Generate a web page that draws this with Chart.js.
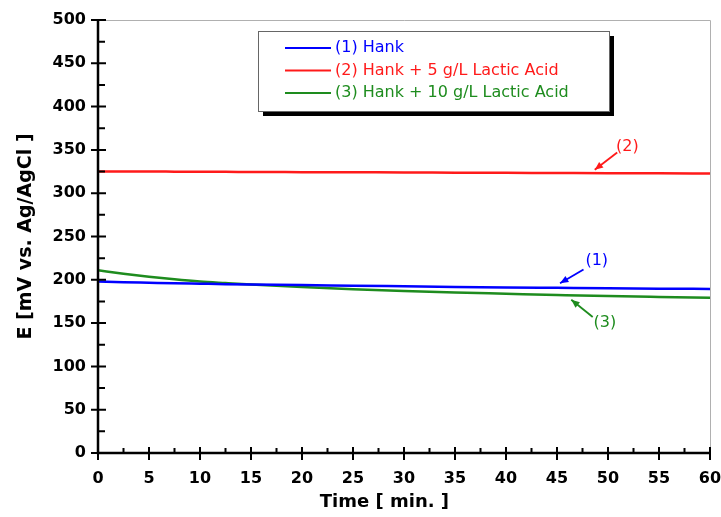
<!DOCTYPE html>
<html>
<head>
<meta charset="utf-8">
<title>Open circuit potential vs time</title>
<script src="https://cdn.jsdelivr.net/npm/chart.js@4.4.1/dist/chart.umd.min.js"></script>
<style>
  html, body { margin: 0; padding: 0; background: #fff; }
  #wrap { width: 721px; height: 517px; }
</style>
</head>
<body>
<div id="wrap"><canvas id="myChart" width="721" height="517"></canvas></div>
<script>
// time in minutes
const times = [0, 2.5, 5, 7.5, 10, 12.5, 15, 20, 25, 30, 35, 40, 45, 50, 55, 60];

// E in mV vs Ag/AgCl
const hank = [198, 197.2, 196.6, 196, 195.5, 195, 194.6, 194, 193.2, 192.5, 191.8, 191.2, 190.7, 190.2, 189.8, 189.5];
const hank5 = [325, 325, 325, 324.9, 324.8, 324.7, 324.5, 324.3, 324.1, 324, 323.7, 323.5, 323.3, 323.1, 323, 322.8];
const hank10 = [211, 207, 203.5, 200.5, 198, 196.2, 194.5, 191.6, 189.1, 187, 185.3, 183.9, 182.5, 181.2, 180.2, 179.3];

const seriesLabels = ['(1) Hank', '(2) Hank + 5 g/L Lactic Acid', '(3) Hank + 10 g/L Lactic Acid'];
const seriesColors = ['#0000ff', '#ff1a1a', '#1e8c1e'];

// arrow labels, in data units: text position, arrow tail, arrow head
const noteText = ['(1)', '(2)', '(3)'];
const noteAt = [[48.9, 222], [51.9, 354], [49.7, 150]];
const noteTail = [[47.6, 212], [50.9, 347], [48.5, 157]];
const noteHead = [[45.3, 196], [48.7, 327], [46.4, 177]];

const xTicksMajor = [0, 5, 10, 15, 20, 25, 30, 35, 40, 45, 50, 55, 60];
const yTicksMajor = [0, 50, 100, 150, 200, 250, 300, 350, 400, 450, 500];

const xTitle = 'Time [ min. ]';

const FONT = '"DejaVu Sans", "Liberation Sans", Arial, sans-serif';

function toPoints(ys) {
    return ys.map((y, i) => ({ x: times[i], y: y }));
}

const frameAndTicks = {
    id: 'frameAndTicks',
    afterDatasetsDraw(chart) {
        const ctx = chart.ctx;
        const a = chart.chartArea;
        const xs = chart.scales.x;
        const ys = chart.scales.y;
        ctx.save();
        // light top and right border
        ctx.strokeStyle = '#b0b0b0';
        ctx.lineWidth = 1;
        ctx.beginPath();
        ctx.moveTo(a.left, a.top + 0.5);
        ctx.lineTo(a.right + 0.5, a.top + 0.5);
        ctx.lineTo(a.right + 0.5, a.bottom);
        ctx.stroke();

        ctx.strokeStyle = '#000';
        ctx.lineWidth = 2.5;
        ctx.beginPath();
        ctx.moveTo(a.left, a.top);
        ctx.lineTo(a.left, a.bottom);
        ctx.lineTo(a.right, a.bottom);
        ctx.stroke();

        ctx.lineWidth = 2;
        ctx.beginPath();
        xTicksMajor.forEach(v => {
            const px = xs.getPixelForValue(v);
            ctx.moveTo(px, a.bottom - 6);
            ctx.lineTo(px, a.bottom + 7);
            if (v < 60) {
                const pm = xs.getPixelForValue(v + 2.5);
                ctx.moveTo(pm, a.bottom - 5);
                ctx.lineTo(pm, a.bottom);
            }
        });
        yTicksMajor.forEach(v => {
            const py = ys.getPixelForValue(v);
            ctx.moveTo(a.left - 7, py);
            ctx.lineTo(a.left + 8, py);
            if (v < 500) {
                const pm = ys.getPixelForValue(v + 25);
                ctx.moveTo(a.left, pm);
                ctx.lineTo(a.left + 7, pm);
            }
        });
        ctx.stroke();

        // x axis title sits a little left of centre in the original
        ctx.fillStyle = '#000';
        ctx.font = 'bold 18px ' + FONT;
        ctx.textAlign = 'center';
        ctx.textBaseline = 'middle';
        ctx.fillText(xTitle, a.left + (a.right - a.left) * 0.468, 502);
        ctx.restore();
    }
};

const boxLegend = {
    id: 'boxLegend',
    afterDraw(chart) {
        const ctx = chart.ctx;
        const left = 258, top = 31, w = 351, h = 80;
        ctx.save();
        ctx.fillStyle = '#000';
        ctx.fillRect(left + 5, top + 5, w, h);
        ctx.fillStyle = '#fff';
        ctx.fillRect(left, top, w, h);
        ctx.strokeStyle = '#666';
        ctx.lineWidth = 1;
        ctx.strokeRect(left + 0.5, top + 0.5, w, h);
        ctx.font = '16px ' + FONT;
        ctx.textBaseline = 'middle';
        chart.data.datasets.forEach((ds, i) => {
            const y = top + 17 + i * 22.5;
            ctx.strokeStyle = ds.borderColor;
            ctx.lineWidth = 2;
            ctx.beginPath();
            ctx.moveTo(285, y);
            ctx.lineTo(331, y);
            ctx.stroke();
            ctx.fillStyle = ds.borderColor;
            ctx.fillText(ds.label, 335, y);
        });
        ctx.restore();
    }
};

const arrowNotes = {
    id: 'arrowNotes',
    afterDatasetsDraw(chart) {
        const ctx = chart.ctx;
        const xs = chart.scales.x;
        const ys = chart.scales.y;
        ctx.save();
        ctx.font = '16px ' + FONT;
        ctx.textAlign = 'center';
        ctx.textBaseline = 'middle';
        noteText.forEach((t, i) => {
            const col = seriesColors[i];
            const tx = xs.getPixelForValue(noteAt[i][0]);
            const ty = ys.getPixelForValue(noteAt[i][1]);
            const x0 = xs.getPixelForValue(noteTail[i][0]);
            const y0 = ys.getPixelForValue(noteTail[i][1]);
            const x1 = xs.getPixelForValue(noteHead[i][0]);
            const y1 = ys.getPixelForValue(noteHead[i][1]);
            ctx.fillStyle = col;
            ctx.strokeStyle = col;
            ctx.fillText(t, tx, ty);
            ctx.lineWidth = 1.8;
            ctx.beginPath();
            ctx.moveTo(x0, y0);
            ctx.lineTo(x1, y1);
            ctx.stroke();
            const ang = Math.atan2(y1 - y0, x1 - x0);
            const len = 9, half = 0.4;
            ctx.beginPath();
            ctx.moveTo(x1, y1);
            ctx.lineTo(x1 - len * Math.cos(ang - half), y1 - len * Math.sin(ang - half));
            ctx.lineTo(x1 - len * Math.cos(ang + half), y1 - len * Math.sin(ang + half));
            ctx.closePath();
            ctx.fill();
        });
        ctx.restore();
    }
};

const tickFont = { family: FONT, size: 16, weight: 'bold' };

new Chart('myChart', {
    type: 'line',
    data: {
        datasets: [hank, hank5, hank10].map((ys, i) => ({
            label: seriesLabels[i],
            data: toPoints(ys),
            borderColor: seriesColors[i],
            backgroundColor: seriesColors[i],
            borderWidth: 2.5,
            pointRadius: 0,
            cubicInterpolationMode: 'monotone',
            fill: false
        }))
    },
    options: {
        responsive: false,
        animation: false,
        layout: { padding: { top: 20, right: 11, left: 0, bottom: 0 } },
        plugins: {
            legend: { display: false },
            tooltip: { enabled: false }
        },
        scales: {
            x: {
                type: 'linear',
                min: 0,
                max: 60,
                afterFit: s => { s.height = 64; s.paddingLeft = 0; s.paddingRight = 0; },
                grid: { display: false, drawTicks: false },
                border: { display: false },
                ticks: { stepSize: 5, color: '#000', font: tickFont, padding: 16 },
                title: { display: false }
            },
            y: {
                type: 'linear',
                min: 0,
                max: 500,
                afterFit: s => { s.width = 98; s.paddingTop = 0; s.paddingBottom = 0; },
                grid: { display: false, drawTicks: false },
                border: { display: false },
                ticks: { stepSize: 50, color: '#000', font: tickFont, padding: 12 },
                title: {
                    display: true,
                    text: 'E [mV vs. Ag/AgCl ]',
                    color: '#000',
                    font: { family: FONT, size: 19, weight: 'bold' },
                    padding: { top: 15, bottom: 0 }
                }
            }
        }
    },
    plugins: [frameAndTicks, arrowNotes, boxLegend]
});
</script>
</body>
</html>
